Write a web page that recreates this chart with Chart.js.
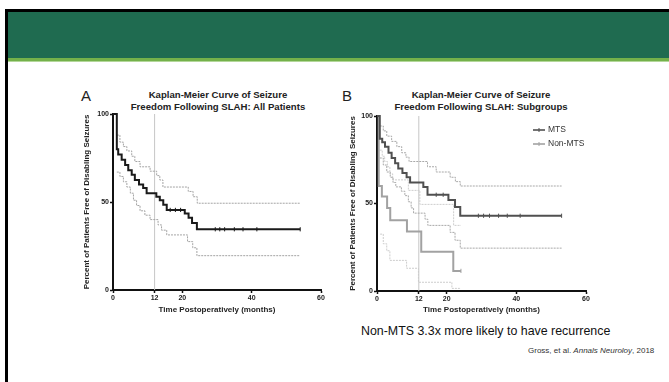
<!DOCTYPE html>
<html>
<head>
<meta charset="utf-8">
<script src="https://cdn.jsdelivr.net/npm/chart.js@4.4.1/dist/chart.umd.min.js"></script>
<style>
  body { margin: 0; width: 669px; height: 382px; background: #fff; overflow: hidden; position: relative;
         font-family: "Liberation Sans", Arial, sans-serif; color: #111; }
  .abs { position: absolute; }
  .ptitle { position: absolute; width: 240px; text-align: center; font-weight: bold; font-size: 9.6px; line-height: 12px; color: #222; }
  .letter { position: absolute; font-size: 15px; line-height: 15px; color: #222; }
</style>
</head>
<body>
<div class="abs" style="left:5px;top:9px;width:664px;height:3px;background:#000"></div>
<div class="abs" style="left:5px;top:9px;width:3px;height:373px;background:#000"></div>
<div class="abs" style="left:8px;top:12px;width:661px;height:46px;background:#1f6b50"></div>
<div class="abs" style="left:8px;top:58px;width:661px;height:3px;background:#74b14a"></div>
<div class="abs" style="left:8px;top:61px;width:661px;height:1px;background:#b3d79a"></div>

<div class="letter" style="left:81px;top:88px">A</div>
<div class="ptitle" style="left:98px;top:89px">Kaplan-Meier Curve of Seizure<br>Freedom Following SLAH: All Patients</div>
<div class="letter" style="left:342px;top:88px">B</div>
<div class="ptitle" style="left:361px;top:89px">Kaplan-Meier Curve of Seizure<br>Freedom Following SLAH: Subgroups</div>

<canvas id="chartA" width="260" height="240" style="position:absolute;left:70px;top:80px"></canvas>
<canvas id="chartB" width="265" height="240" style="position:absolute;left:333px;top:80px"></canvas>

<div class="abs" style="left:361px;top:324px;font-size:12.4px;color:#111">Non-MTS 3.3x more likely to have recurrence</div>
<div class="abs" style="left:528px;top:346px;font-size:8px;color:#333">Gross, et al. <i>Annals Neuroloy</i>, 2018</div>

<script>
// ticks
const xTicks = [0, 12, 20, 40, 60];
const yTicks = [0, 50, 100];
const refMonth = 12;

// A: all patients (months, % free)
const allTime = [0, 1.1, 1.5, 2.5, 3.5, 4.4, 5.4, 6.3, 7.5, 8.7, 9.7, 12.5, 13.5, 14.5, 15.5, 20.7, 21.8, 22.8, 24.2, 54];
const allPct  = [100, 80, 77, 74, 71, 68, 65.5, 62.5, 60, 58, 55, 53, 51, 48.5, 45.5, 43.5, 41, 38, 34.5, 34.5];
const allCensor = [16.5, 18, 19.5, 29.5, 30.8, 32.2, 35, 37.5, 41.5, 54];
const allUpTime = [1.1, 2, 3, 4, 5.4, 6.3, 7.8, 10.7, 12.6, 13.5, 14.4, 21.7, 23.1, 24.3, 54];
const allUpPct  = [88, 84, 81.5, 79, 76, 73, 70, 67.5, 65, 62.5, 58.5, 56, 53, 49.3, 49.3];
const allLoTime = [1.1, 2, 3, 4, 5, 5.9, 6.8, 7.8, 9.2, 10.7, 13, 14, 15.5, 21.5, 23, 24.2, 54];
const allLoPct  = [67, 64.5, 61.5, 58.5, 55, 51, 48, 45, 42.5, 40, 37, 34, 31.3, 27.5, 24, 19.5, 19.5];

// B: subgroups
const groupLabels = ["MTS", "Non-MTS"];
const mtsTime = [0, 0.8, 1.5, 2.3, 3.3, 4.2, 5.2, 6.1, 7.3, 8.5, 9.5, 13.3, 14.5, 20.5, 22.4, 23.9, 53];
const mtsPct  = [100, 87, 85, 82.5, 79, 76, 73, 70, 67.5, 65, 62, 59.5, 55, 52, 48, 43, 43];
const mtsCensor = [17, 19, 29.1, 30.6, 32.3, 34.9, 37.4, 41.1, 53];
const mtsUpTime = [0.8, 1.8, 2.8, 4.2, 5.7, 7.1, 8.3, 9.2, 14.5, 17, 21, 22.5, 23.9, 53];
const mtsUpPct  = [94.3, 91.5, 88.5, 85.5, 82.5, 79, 76.5, 74, 71, 68, 65, 62.5, 60, 60];
const mtsLoTime = [0.8, 1.8, 2.8, 3.8, 4.6, 5.4, 7, 8, 9, 9.8, 10.5, 13.8, 14.6, 21, 22.4, 23.9, 53];
const mtsLoPct  = [76, 72, 68, 65, 62, 59.5, 57, 54.5, 51, 47.5, 44.5, 41, 37.5, 33.5, 29, 24.5, 24.5];
const nonTime = [0, 0.5, 1.4, 2.9, 3.8, 8.6, 12.7, 21.9, 24.1];
const nonPct  = [100, 60, 54, 47.5, 40.5, 34, 22.5, 11.5, 11.5];
const nonCensor = [24.1];
const nonUpTime = [0.8, 1.5, 2.2, 3, 3.7, 4.5, 9, 12.3, 22, 24.1];
const nonUpPct  = [80.5, 77, 74, 71, 67, 63.5, 57.5, 49.5, 37.5, 37.5];
const nonLoTime = [0.9, 1.8, 2.8, 3.7, 8.5, 11.9, 21.5, 24.1];
const nonLoPct  = [32.5, 27, 23, 17.5, 13, 5, 1.5, 1.5];

const FONT = '"Liberation Sans", Arial, sans-serif';

function levelAt(times, pcts, t) {
  let v = pcts[0];
  for (let i = 0; i < times.length; i++) if (times[i] <= t) v = pcts[i];
  return v;
}
function stepLine(times, pcts, color, width, dash) {
  return {
    data: times.map((t, i) => ({ x: t, y: pcts[i] })),
    stepped: true, borderColor: color, borderWidth: width, borderDash: dash || [],
    pointRadius: 0, fill: false, clip: false
  };
}
function censorMarks(times, pcts, marks, color) {
  return {
    data: marks.map(t => ({ x: t, y: levelAt(times, pcts, t) })),
    showLine: false, pointStyle: 'line', rotation: 90, pointRadius: 2.1,
    borderColor: color, borderWidth: 1, clip: false
  };
}
function refLine() {
  return { data: [{ x: refMonth, y: 0 }, { x: refMonth, y: 100 }], borderColor: '#c6c6c6', borderWidth: 1, pointRadius: 0, clip: false };
}

function kmOptions(pad, yWidth, xHeight, yTitlePad) {
  const tickFont = { family: FONT, size: 7, weight: 'bold' };
  const titleFont = { family: FONT, size: 8, weight: 'bold' };
  return {
    responsive: false,
    animation: false,
    layout: { padding: pad },
    plugins: { legend: { display: false }, tooltip: { enabled: false } },
    scales: {
      x: {
        type: 'linear', min: 0, max: 60,
        afterFit: s => { s.height = xHeight; },
        afterBuildTicks: s => { s.ticks = xTicks.map(v => ({ value: v })); },
        grid: { drawOnChartArea: false, tickLength: 3, tickWidth: 1.5, tickColor: '#111' },
        border: { color: '#111', width: 2 },
        ticks: { font: tickFont, color: '#222', padding: 1, maxRotation: 0, autoSkip: false },
        title: { display: true, text: 'Time Postoperatively (months)', font: titleFont, color: '#222', padding: { top: 0, bottom: 5 } }
      },
      y: {
        min: 0, max: 100,
        afterFit: s => { s.width = yWidth; },
        afterBuildTicks: s => { s.ticks = yTicks.map(v => ({ value: v })); },
        grid: { drawOnChartArea: false, tickLength: 3, tickWidth: 1.5, tickColor: '#111' },
        border: { color: '#111', width: 2 },
        ticks: { font: tickFont, color: '#222', padding: 1 },
        title: { display: true, text: 'Percent of Patients Free of Disabling Seizures', font: titleFont, color: '#222', padding: { top: yTitlePad, bottom: 0 } }
      }
    }
  };
}

// panel A
new Chart(document.getElementById('chartA'), {
  type: 'line',
  data: {
    datasets: [
      stepLine(allTime, allPct, '#1a1a1a', 2),
      censorMarks(allTime, allPct, allCensor, '#1a1a1a'),
      stepLine(allUpTime, allUpPct, '#a4a4a4', 1, [2, 1]),
      stepLine(allLoTime, allLoPct, '#a4a4a4', 1, [2, 1]),
      refLine()
    ]
  },
  options: kmOptions({ top: 34, right: 9, left: 0, bottom: 0 }, 43, 30, 12)
});

// panel B
const mtsColor = '#505050', nonColor = '#a2a2a2';
const groupColors = [mtsColor, nonColor];
const legendPlugin = {
  id: 'kmLegend',
  afterDraw(chart) {
    const ctx = chart.ctx;
    groupLabels.forEach((label, i) => {
      const y = 50 + i * 14;
      ctx.save();
      ctx.strokeStyle = groupColors[i];
      ctx.lineWidth = 1.6;
      ctx.beginPath(); ctx.moveTo(200, y); ctx.lineTo(212, y); ctx.stroke();
      ctx.lineWidth = 1;
      ctx.beginPath(); ctx.moveTo(206, y - 2); ctx.lineTo(206, y + 2); ctx.stroke();
      ctx.fillStyle = '#333';
      ctx.font = '8.5px ' + FONT;
      ctx.textBaseline = 'middle';
      ctx.fillText(label, 215, y);
      ctx.restore();
    });
  }
};

new Chart(document.getElementById('chartB'), {
  type: 'line',
  data: {
    datasets: [
      stepLine(mtsTime, mtsPct, mtsColor, 2),
      censorMarks(mtsTime, mtsPct, mtsCensor, mtsColor),
      stepLine(nonTime, nonPct, nonColor, 2),
      censorMarks(nonTime, nonPct, nonCensor, nonColor),
      stepLine(mtsUpTime, mtsUpPct, '#a8a8a8', 1, [2, 1]),
      stepLine(mtsLoTime, mtsLoPct, '#a8a8a8', 1, [2, 1]),
      stepLine(nonUpTime, nonUpPct, '#cdcdcd', 1, [2, 1]),
      stepLine(nonLoTime, nonLoPct, '#cdcdcd', 1, [2, 1]),
      refLine()
    ]
  },
  options: kmOptions({ top: 36, right: 12, left: 0, bottom: 0 }, 44, 29, 15),
  plugins: [legendPlugin]
});
</script>
</body>
</html>
